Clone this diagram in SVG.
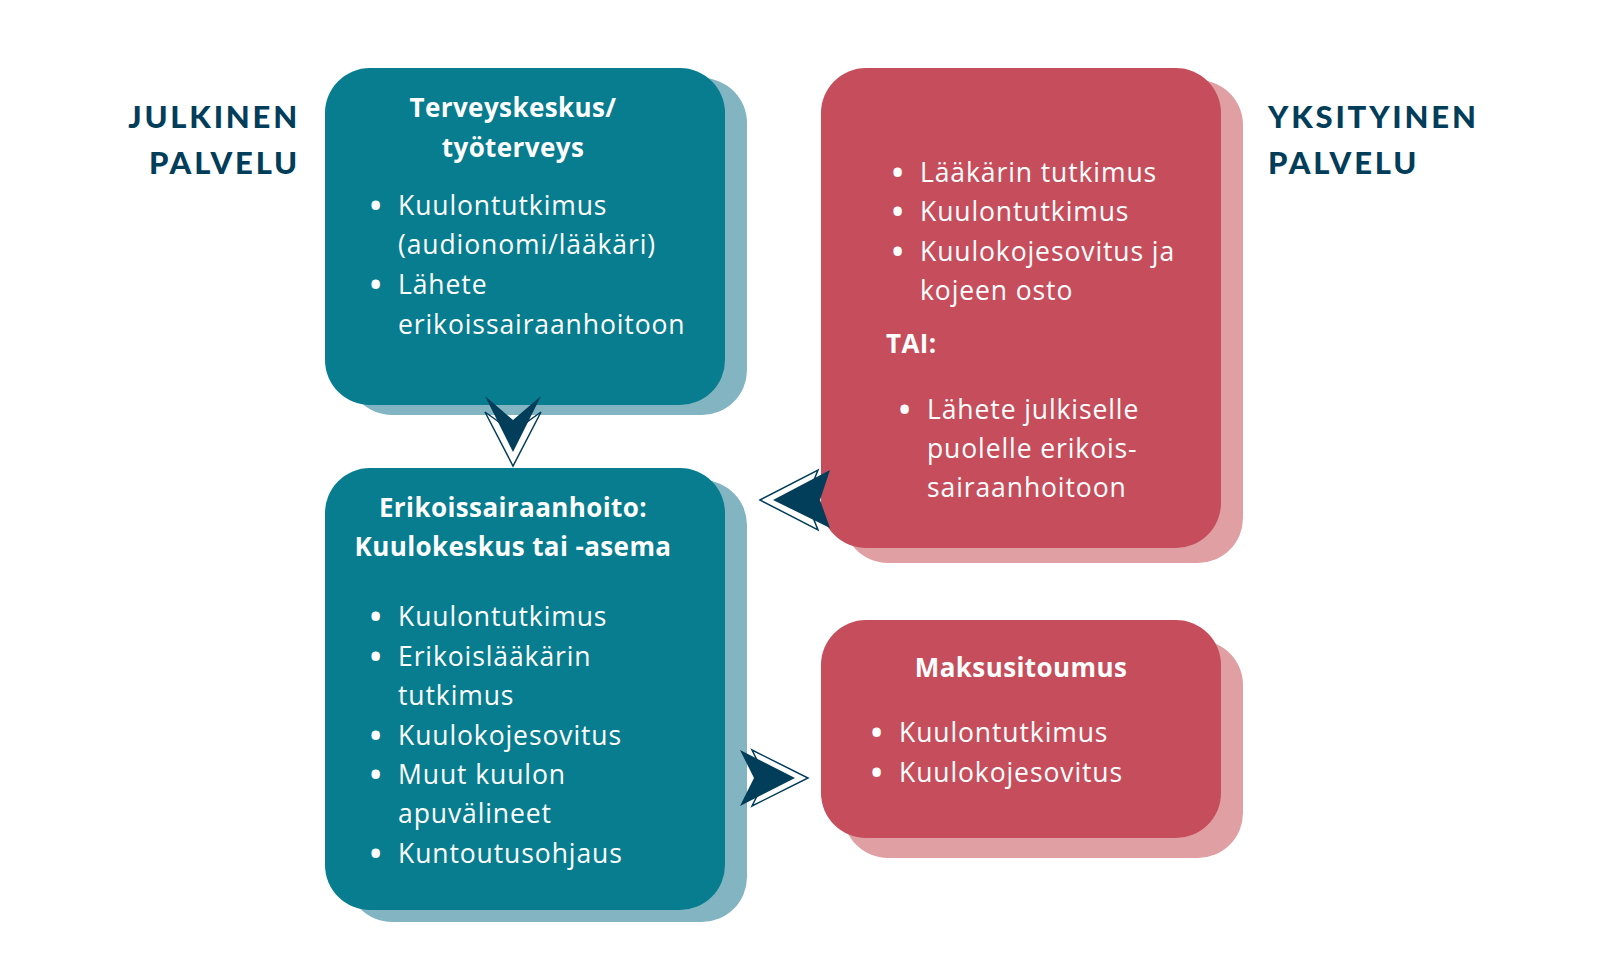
<svg xmlns="http://www.w3.org/2000/svg" width="1600" height="960" viewBox="0 0 1600 960">
<style>
.t{fill:#077d8f}.ts{fill:#82b4c2}.r{fill:#c64e5c}.rs{fill:#e0a0a3}
text{font-family:"Open Sans",Lato,sans-serif;fill:#fff;font-size:26.5px;letter-spacing:0.9px}
.h{font-weight:bold;letter-spacing:0.4px;font-size:26px}
.b{font-weight:bold;font-size:30px}
.side{fill:#023d5a;font-family:Lato,sans-serif;font-weight:900;font-size:31px;letter-spacing:2.8px}
.af{fill:#023d5a}.ao{fill:#fff;stroke:#023d5a;stroke-width:1.5}
</style>
<rect width="1600" height="960" fill="#fff"/>
<g id="label-julkinen"><text class="side" x="300" y="128" text-anchor="end">JULKINEN</text><text class="side" x="300" y="174" text-anchor="end">PALVELU</text></g>
<g id="label-yksityinen"><text class="side" x="1268" y="128">YKSITYINEN</text><text class="side" x="1268" y="174">PALVELU</text></g>
<g id="terveyskeskus">
<rect class="ts" x="347" y="78" width="400" height="337" rx="45"/>
<rect class="t" x="325" y="68" width="400" height="337" rx="45"/>
<text class="h" x="513" y="117" text-anchor="middle">Terveyskeskus/</text>
<text class="h" x="513" y="157" text-anchor="middle">työterveys</text>
<text class="b" x="370" y="216">•</text><text x="398" y="215">Kuulontutkimus</text>
<text x="398" y="254">(audionomi/lääkäri)</text>
<text class="b" x="370" y="295">•</text><text x="398" y="294">Lähete</text>
<text x="398" y="334">erikoissairaanhoitoon</text>
</g>
<g id="erikoissairaanhoito">
<rect class="ts" x="347" y="480" width="400" height="442" rx="45"/>
<rect class="t" x="325" y="468" width="400" height="442" rx="45"/>
<text class="h" x="513" y="517" text-anchor="middle">Erikoissairaanhoito:</text>
<text class="h" x="513" y="556" text-anchor="middle">Kuulokeskus tai -asema</text>
<text class="b" x="370" y="627">•</text><text x="398" y="626">Kuulontutkimus</text>
<text class="b" x="370" y="667">•</text><text x="398" y="666">Erikoislääkärin</text>
<text x="398" y="705">tutkimus</text>
<text class="b" x="370" y="746">•</text><text x="398" y="745">Kuulokojesovitus</text>
<text class="b" x="370" y="785">•</text><text x="398" y="784">Muut kuulon</text>
<text x="398" y="823">apuvälineet</text>
<text class="b" x="370" y="864">•</text><text x="398" y="863">Kuntoutusohjaus</text>
</g>
<g id="yksityinen">
<rect class="rs" x="843" y="80" width="400" height="483" rx="45"/>
<rect class="r" x="821" y="68" width="400" height="480" rx="45"/>
<text class="b" x="892" y="183">•</text><text x="920" y="182">Lääkärin tutkimus</text>
<text class="b" x="892" y="222">•</text><text x="920" y="221">Kuulontutkimus</text>
<text class="b" x="892" y="262">•</text><text x="920" y="261">Kuulokojesovitus ja</text>
<text x="920" y="300">kojeen osto</text>
<text class="h" x="886" y="353">TAI:</text>
<text class="b" x="899" y="420">•</text><text x="927" y="419">Lähete julkiselle</text>
<text x="927" y="458">puolelle erikois-</text>
<text x="927" y="497">sairaanhoitoon</text>
</g>
<g id="maksusitoumus">
<rect class="rs" x="843" y="640" width="400" height="218" rx="45"/>
<rect class="r" x="821" y="620" width="400" height="218" rx="45"/>
<text class="h" x="1021" y="677" text-anchor="middle">Maksusitoumus</text>
<text class="b" x="871" y="743">•</text><text x="899" y="742">Kuulontutkimus</text>
<text class="b" x="871" y="783">•</text><text x="899" y="782">Kuulokojesovitus</text>
</g>
<g id="connectors">
<polygon class="ao" points="485,412 513,432 541,412 513,466"/>
<polygon class="af" points="485,396 513,420 541,396 513,452"/>
<polygon class="ao" points="760,500 818,470 806,500 818,530"/>
<polygon class="af" points="773,500 830,470 820,500 830,528"/>
<polygon class="ao" points="752,750 808,778 752,806 766,778"/>
<polygon class="af" points="740,750 795,778 740,806 754,778"/>
</g>
</svg>
